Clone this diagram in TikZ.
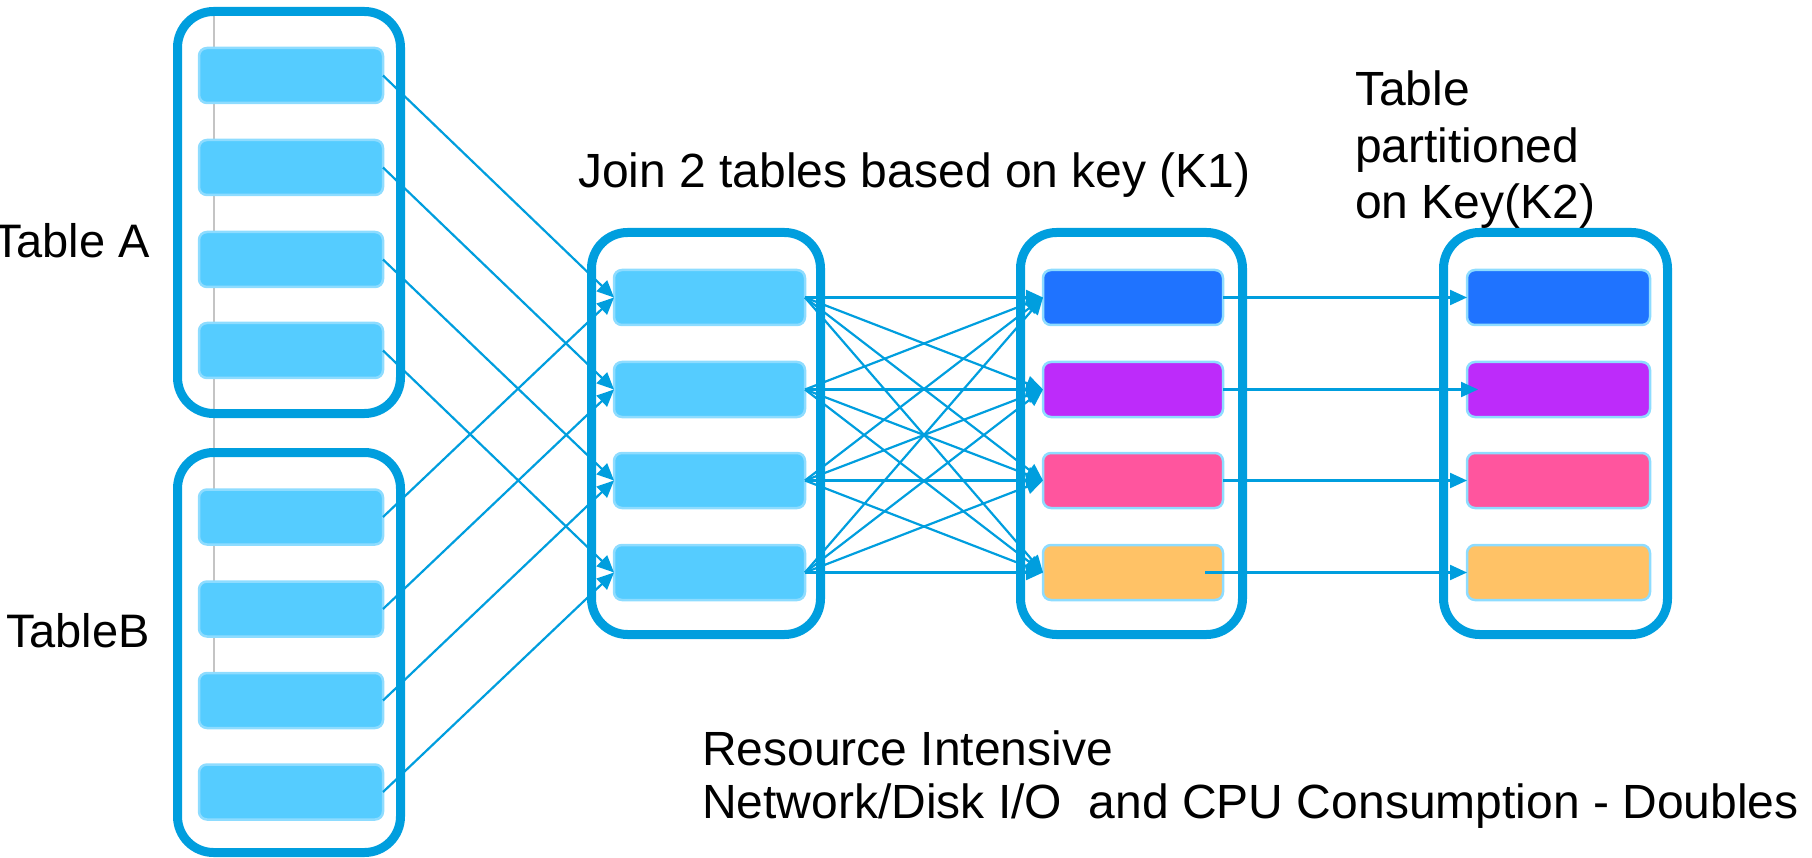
\documentclass[tikz,border=0pt]{standalone}
\usepackage{fontspec}
\setmainfont{Liberation Sans}
\usetikzlibrary{arrows.meta}
\definecolor{frameblue}{HTML}{009EDE}
\definecolor{cellblue}{HTML}{55CCFF}
\definecolor{celledge}{HTML}{8EDCFF}
\definecolor{kblue}{HTML}{1F73FF}
\definecolor{kpurple}{HTML}{BD2BFA}
\definecolor{kpink}{HTML}{FF559E}
\definecolor{korange}{HTML}{FFC266}
\definecolor{guide}{HTML}{C4C4C4}
\begin{document}
\begin{tikzpicture}[x=1pt,y=-1pt,
  tablebox/.style={draw=frameblue, line width=9pt, rounded corners=36pt,
    inner sep=0pt, outer sep=0pt},
  rowcell/.style={draw=celledge, line width=2.5pt, rounded corners=8pt,
    inner sep=0pt, outer sep=0pt, minimum height=55pt},
  flow/.style={draw=frameblue, line width=2.2pt,
    -{Triangle[length=17pt,width=15pt]}},
  txt/.style={font=\fontsize{48}{56.5}\selectfont, inner sep=0pt, text=black}
]
\useasboundingbox (0,0) rectangle (1812,858);

% thin guide line behind the left tables
\draw[guide, line width=1.5pt] (214,10) -- (214,700);

% table frames
\node[tablebox, minimum width=223pt, minimum height=402pt] (A) at (289,212.5) {};
\node[tablebox, minimum width=223pt, minimum height=400pt] (B) at (289,652.5) {};
\node[tablebox, minimum width=229pt, minimum height=402pt] (C) at (706,433.5) {};
\node[tablebox, minimum width=222pt, minimum height=402pt] (D) at (1131.5,433.5) {};
\node[tablebox, minimum width=224pt, minimum height=402pt] (E) at (1555.5,433.5) {};

% rows of Table A and Table B
\foreach \i/\y in {1/75.5,2/167.5,3/259.5,4/350.5}
  \node[rowcell, fill=cellblue, minimum width=184pt] (a\i) at (291,\y) {};
\foreach \i/\y in {1/517,2/609,3/700.5,4/792}
  \node[rowcell, fill=cellblue, minimum width=184pt] (b\i) at (291,\y) {};

% rows of the joined table
\foreach \i/\y in {1/297.5,2/389.5,3/480.5,4/572.5}
  \node[rowcell, fill=cellblue, minimum width=191pt] (c\i) at (709.5,\y) {};

% partitions on K2
\foreach \i/\y/\c in {1/297.5/kblue,2/389.5/kpurple,3/480.5/kpink,4/572.5/korange}{
  \node[rowcell, fill=\c, minimum width=180pt] (d\i) at (1133,\y) {};
  \node[rowcell, fill=\c, minimum width=183pt] (e\i) at (1558.5,\y) {};
}

% data movement
\foreach \i in {1,...,4}{
  \draw[flow] (a\i.east) -- (c\i.west);
  \draw[flow] (b\i.east) -- (c\i.west);
  \foreach \j in {1,...,4}
    \draw[flow] (c\i.east) -- (d\j.west);
}
\draw[flow] (d1.east) -- (e1.west);
\draw[flow] (d2.east) -- ([xshift=11pt]e2.west);
\draw[flow] (d3.east) -- (e3.west);
\draw[flow] ([xshift=-18pt]d4.east) -- (e4.west);

% captions
\node[txt, anchor=base east, font=\fontsize{47}{56}\selectfont] (ta) at (150,258) {Table A};
\node[txt, anchor=base east, font=\fontsize{47}{56}\selectfont] (tb) at (150,647) {TableB};
\node[txt, anchor=base west] (tj) at (578,188) {Join 2 tables based on key (K1)};
\node[txt, anchor=north west, align=left] (tk) at (1355,71)
  {Table\\partitioned\\on Key(K2)};
\node[txt, anchor=north west, align=left, font=\fontsize{48}{53}\selectfont] (tr) at (702,731)
  {Resource Intensive\\Network/Disk I/O\ \ and CPU Consumption - Doubles};
\end{tikzpicture}
\end{document}
